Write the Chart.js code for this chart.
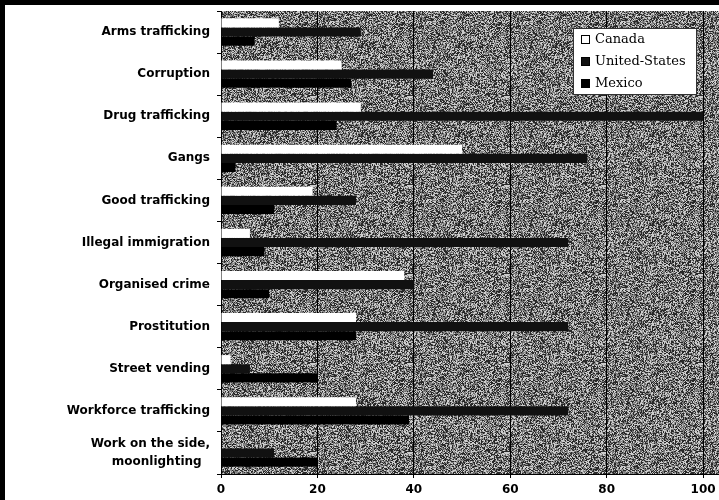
<!DOCTYPE html>
<html>
<head>
<meta charset="utf-8">
<script src="https://cdn.jsdelivr.net/npm/chart.js@4/dist/chart.umd.min.js"></script>
<style>
  html, body { margin: 0; padding: 0; background: #fff; }
  #wrap { width: 719px; height: 500px; position: relative; }
</style>
</head>
<body>
<div id="wrap"><canvas id="chart" width="719" height="500"></canvas></div>
<script>
// Offences and the share attributed to each country
const categories = [
  'Arms trafficking',
  'Corruption',
  'Drug trafficking',
  'Gangs',
  'Good trafficking',
  'Illegal immigration',
  'Organised crime',
  'Prostitution',
  'Street vending',
  'Workforce trafficking',
  ['Work on the side,', 'moonlighting  ']
];
const seriesNames = ['Canada', 'United-States', 'Mexico'];
const canada       = [12, 25, 29, 50, 19, 6, 38, 28, 2, 28, 0];
const unitedStates = [29, 44, 100, 76, 28, 72, 40, 72, 6, 72, 11];
const mexico       = [7, 27, 24, 3, 11, 9, 10, 28, 20, 39, 20];
const xTicks = [0, 20, 40, 60, 80, 100];

// Grainy grey fill for the plot area
function grain(x, y) {
  let h = (x * 374761393 + y * 668265263) | 0;
  h = Math.imul(h ^ (h >>> 13), 1274126177);
  h ^= h >>> 16;
  return (h >>> 0) / 4294967296;
}
function makeGrainPattern(ctx) {
  const w = 97, h = 89;
  const c = document.createElement('canvas');
  c.width = w; c.height = h;
  const g = c.getContext('2d');
  const img = g.createImageData(w, h);
  for (let y = 0; y < h; y++) {
    for (let x = 0; x < w; x++) {
      const r = grain(x, y);
      const v = r < 0.33 ? 40 : r < 0.6 ? 205 : 95 + Math.round((r - 0.6) * 150);
      const i = (y * w + x) * 4;
      img.data[i] = img.data[i + 1] = img.data[i + 2] = v;
      img.data[i + 3] = 255;
    }
  }
  g.putImageData(img, 0, 0);
  return ctx.createPattern(c, 'repeat');
}

const backdrop = {
  id: 'backdrop',
  beforeDraw(chart) {
    const { ctx, chartArea: a } = chart;
    ctx.save();
    ctx.fillStyle = '#fff';
    ctx.fillRect(0, 0, chart.width, chart.height);
    ctx.fillStyle = makeGrainPattern(ctx);
    ctx.fillRect(a.left, a.top, a.right - a.left, a.bottom - a.top);
    ctx.restore();
  },
  afterDraw(chart) {
    const ctx = chart.ctx;
    ctx.save();
    ctx.fillStyle = '#000';
    ctx.fillRect(0, 0, chart.width, 5);
    ctx.fillRect(0, 0, 5, chart.height);
    ctx.restore();
  }
};

// Boxed legend in the upper right of the plot
const boxLegend = {
  id: 'boxLegend',
  afterDatasetsDraw(chart) {
    const ctx = chart.ctx;
    const x = 573, y = 28, w = 124, h = 67;
    ctx.save();
    ctx.fillStyle = '#fff';
    ctx.fillRect(x, y, w, h);
    ctx.strokeStyle = '#333';
    ctx.lineWidth = 1;
    ctx.strokeRect(x + 0.5, y + 0.5, w - 1, h - 1);
    ctx.font = '13px "DejaVu Serif"';
    ctx.textBaseline = 'middle';
    chart.data.datasets.forEach((ds, i) => {
      const cy = y + 11 + i * 22;
      ctx.fillStyle = ds.backgroundColor;
      ctx.fillRect(x + 8, cy - 4, 9, 9);
      ctx.strokeStyle = '#000';
      ctx.strokeRect(x + 8.5, cy - 3.5, 8, 8);
      ctx.fillStyle = '#000';
      ctx.fillText(ds.label, x + 22, cy + 1);
    });
    ctx.restore();
  }
};

new Chart(document.getElementById('chart'), {
  type: 'bar',
  data: {
    labels: categories,
    datasets: [
      { label: seriesNames[0], data: canada, backgroundColor: '#ffffff' },
      { label: seriesNames[1], data: unitedStates, backgroundColor: '#111111' },
      { label: seriesNames[2], data: mexico, backgroundColor: '#000000' }
    ]
  },
  options: {
    indexAxis: 'y',
    responsive: false,
    animation: false,
    devicePixelRatio: 1,
    layout: { padding: { top: 11, right: 0, bottom: 0, left: 0 } },
    datasets: { bar: { categoryPercentage: 0.65, barPercentage: 1.0, borderWidth: 0 } },
    plugins: { legend: { display: false }, tooltip: { enabled: false } },
    scales: {
      x: {
        min: 0,
        max: 103.3,
        afterBuildTicks(scale) { scale.ticks = xTicks.map(v => ({ value: v })); },
        afterFit(scale) {
          scale.height = 26;
          scale.paddingLeft = 0;
          scale.paddingRight = 0;
        },
        grid: { color: '#000', lineWidth: 1, drawTicks: true, tickLength: 4 },
        border: { color: '#000', width: 1 },
        ticks: {
          color: '#000',
          padding: 5,
          font: { family: '"DejaVu Sans"', size: 12, weight: 'bold' }
        }
      },
      y: {
        afterFit(scale) {
          scale.width = 221;
          scale.paddingTop = 0;
          scale.paddingBottom = 0;
        },
        grid: { display: true, drawOnChartArea: false, offset: true, color: '#000', tickLength: 4 },
        border: { color: '#000', width: 1 },
        ticks: {
          color: '#000',
          padding: 7,
          font: { family: '"DejaVu Sans"', size: 12, weight: 'bold', lineHeight: 1.5 }
        }
      }
    }
  },
  plugins: [backdrop, boxLegend]
});
</script>
</body>
</html>
